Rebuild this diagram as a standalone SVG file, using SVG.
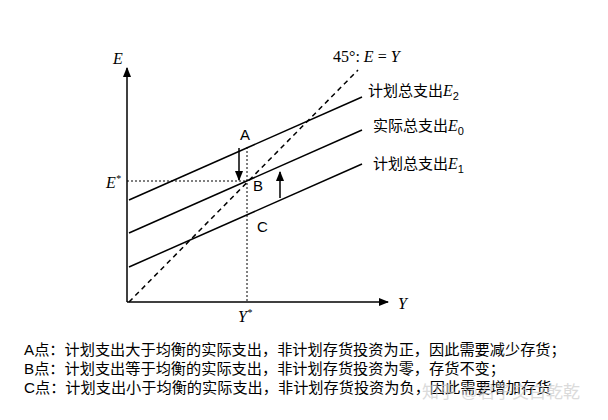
<svg xmlns="http://www.w3.org/2000/svg" width="608" height="420" viewBox="0 0 608 420">
<style>
.l{stroke:#000;stroke-width:1.5;fill:none}
.d{stroke:#000;stroke-width:1;stroke-dasharray:2,2;fill:none}
.m{font-family:"Liberation Serif",serif;font-style:italic;font-size:16px}
.c{font-family:"Liberation Sans","Noto Sans CJK SC",sans-serif;font-size:15px}
.b{font-family:"Liberation Sans","Noto Sans CJK SC",sans-serif;font-size:15.2px}
</style>
<defs><marker id="ar" viewBox="0 0 10 10" refX="9" refY="5" markerWidth="7" markerHeight="7" orient="auto"><path d="M0,1L10,5L0,9z"/></marker></defs>
<rect width="608" height="420" fill="#fff"/>
<g id="connectors">
<line class="l" x1="127" y1="302" x2="127" y2="68" marker-end="url(#ar)"/>
<line class="l" x1="127" y1="302" x2="388" y2="302" marker-end="url(#ar)"/>
<line class="l" x1="129" y1="302" x2="358" y2="70" stroke-dasharray="5,4"/>
<line class="l" x1="129" y1="200" x2="362" y2="97"/>
<line class="l" x1="129" y1="233" x2="362" y2="130"/>
<line class="l" x1="129" y1="267" x2="362" y2="164"/>
<line class="d" x1="127" y1="181" x2="247" y2="181"/>
<line class="d" x1="247" y1="147" x2="247" y2="302"/>
<line class="l" x1="239" y1="148" x2="239" y2="180" marker-end="url(#ar)"/>
<line class="l" x1="280" y1="198" x2="280" y2="172" marker-end="url(#ar)"/>
</g>
<g id="labels">
<text class="m" x="113" y="64">E</text>
<text class="m" x="398" y="309">Y</text>
<text class="m" x="106" y="188">E<tspan font-size="10" dy="-6">*</tspan></text>
<text class="m" x="238" y="322">Y<tspan font-size="10" dy="-6">*</tspan></text>
<text x="333" y="62" font-family="Liberation Serif,serif" font-size="16">45°: <tspan font-style="italic">E</tspan> = <tspan font-style="italic">Y</tspan></text>
<text class="c" x="240" y="140">A</text>
<text class="c" x="253" y="191">B</text>
<text class="c" x="257" y="232">C</text>
<text class="c" x="368" y="96">计划总支出<tspan class="m">E</tspan><tspan font-size="11" dy="4">2</tspan></text>
<text class="c" x="373" y="131">实际总支出<tspan class="m">E</tspan><tspan font-size="11" dy="4">0</tspan></text>
<text class="c" x="373" y="169">计划总支出<tspan class="m">E</tspan><tspan font-size="11" dy="4">1</tspan></text>
<text class="b" x="24" y="355">A点：计划支出大于均衡的实际支出，非计划存货投资为正，因此需要减少存货；</text>
<text class="b" x="24" y="374">B点：计划支出等于均衡的实际支出，非计划存货投资为零，存货不变；</text>
<text class="b" x="24" y="393">C点：计划支出小于均衡的实际支出，非计划存货投资为负，因此需要增加存货</text>
<text x="422" y="398" font-family="Liberation Sans,Noto Sans CJK SC,sans-serif" font-size="17" fill="#ccc" opacity="0.7">知乎 @君子交白乾乾</text>
</g>
</svg>
